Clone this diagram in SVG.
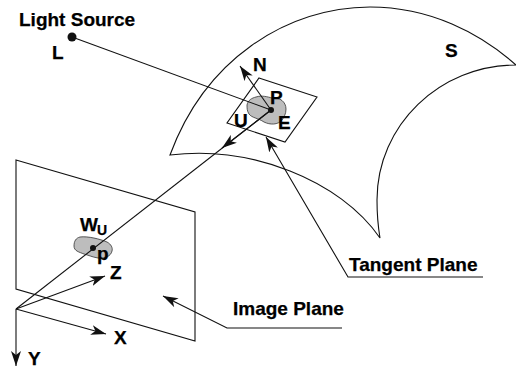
<svg xmlns="http://www.w3.org/2000/svg" width="516" height="370" viewBox="0 0 516 370">
<style>
.l{fill:none;stroke:#111;stroke-width:1.1}
.t{font-family:"Liberation Sans",Arial,sans-serif;font-weight:bold;font-size:19px;fill:#000;stroke:#000;stroke-width:.25}
.b{fill:#bdbdbd;stroke:#333;stroke-width:.8}
</style>
<defs>
<marker id="a" markerUnits="userSpaceOnUse" markerWidth="16" markerHeight="10" refX="15" refY="5" orient="auto"><path d="M0 0L15 5L0 10L4 5Z" fill="#111"/></marker>
</defs>
<rect width="516" height="370" fill="#fff"/>
<g id="surface-S"><path class="l" d="M170 155C205 60 285 8 370 7C430 7 480 33 516 65C440 65 377 125 377 200C377 215 378 226 380 238C340 180 250 145 170 155Z"/></g>
<g id="image-plane"><path class="l" d="M16 160L195 212V341L16 289Z"/></g>
<g id="tangent-plane"><path class="l" d="M259 78L317 97L285 142L227 123Z"/></g>
<g id="patch-P"><path class="b" d="M247 105C248 100 252 98 256 97C262 95 268 97 272 98C280 97 286 102 286 109C286 114 284 117 282 120C278 125 270 125 264 122C258 118 252 118 249 114C247 111 247 108 247 105Z"/></g>
<g id="patch-p"><path class="b" d="M74 246C74 241 76 238 80 237C88 236 100 239 107 242C111 244 113 248 112 251C111 256 105 259 98 258C92 257 88 255 84 254C79 252 74 251 74 246Z"/></g>
<g id="connectors">
<path class="l" d="M72 37L271 110"/>
<path class="l" marker-end="url(#a)" d="M271 110L240 66"/>
<path class="l" d="M271 110L16 309"/>
<path class="l" marker-end="url(#a)" d="M271 110L222 148"/>
<path class="l" marker-end="url(#a)" d="M16 309L105 276"/>
<path class="l" marker-end="url(#a)" d="M16 309L106 334"/>
<path class="l" marker-end="url(#a)" d="M16 309V366"/>
<path class="l" marker-end="url(#a)" d="M483 277H348L266 137"/>
<path class="l" marker-end="url(#a)" d="M342 328H227L163 296"/>
</g>
<g id="point-L"><circle cx="72" cy="37" r="4.5" fill="#111"/></g>
<g id="point-P"><circle cx="271" cy="110" r="3" fill="#111"/></g>
<g id="point-p"><circle cx="93" cy="248" r="3" fill="#111"/></g>
<g id="labels">
<text class="t" x="19" y="26">Light Source</text>
<text class="t" x="52" y="59">L</text>
<text class="t" x="253" y="71">N</text>
<text class="t" x="445" y="57">S</text>
<text class="t" x="270" y="104">P</text>
<text class="t" x="234" y="127">U</text>
<text class="t" x="278" y="129">E</text>
<text class="t" x="80" y="231">W</text>
<text class="t" x="97" y="235" style="font-size:14px">U</text>
<text class="t" x="97" y="260">p</text>
<text class="t" x="110" y="279">Z</text>
<text class="t" x="114" y="344">X</text>
<text class="t" x="28" y="365">Y</text>
<text class="t" x="349" y="271">Tangent Plane</text>
<text class="t" x="233" y="315">Image Plane</text>
</g>
</svg>
